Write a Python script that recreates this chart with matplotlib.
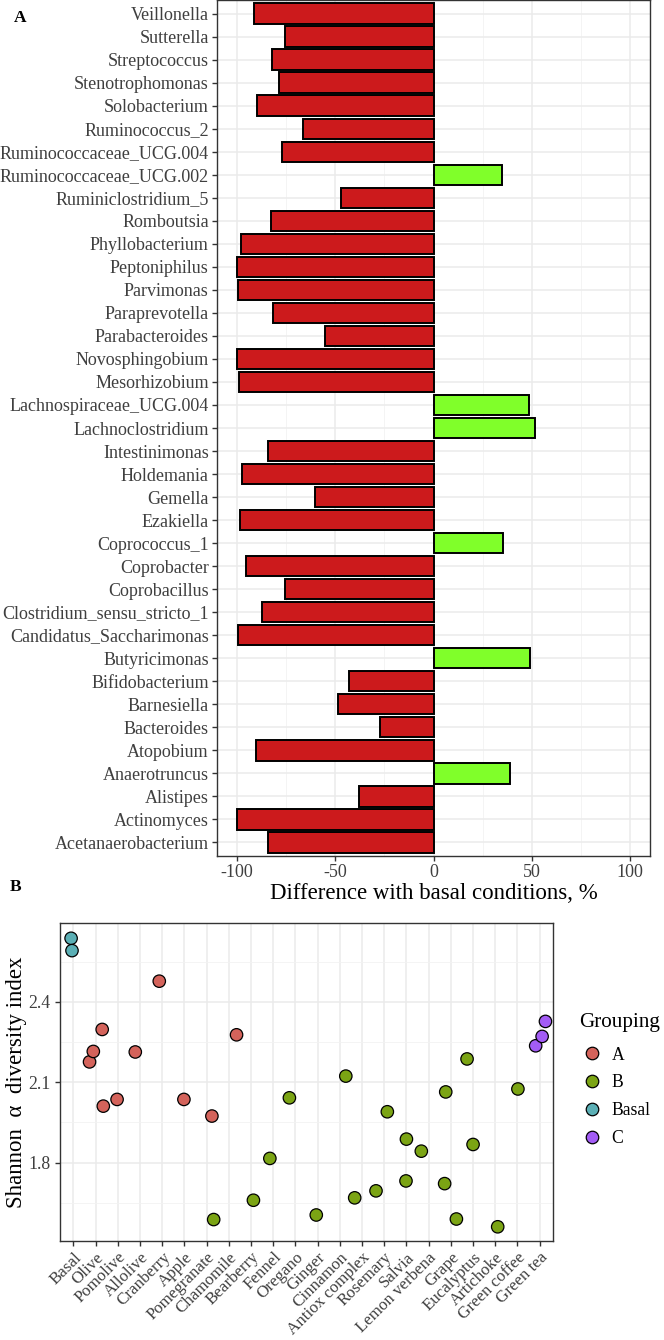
import matplotlib
matplotlib.use('Agg')
import matplotlib.pyplot as plt
from matplotlib.lines import Line2D
from matplotlib.ticker import FixedLocator

plt.rcParams['font.family'] = ['Liberation Serif', 'DejaVu Serif']

# ---------------- Panel A data (top to bottom) ----------------
genera = ['Veillonella', 'Sutterella', 'Streptococcus', 'Stenotrophomonas', 'Solobacterium',
          'Ruminococcus_2', 'Ruminococcaceae_UCG.004', 'Ruminococcaceae_UCG.002',
          'Ruminiclostridium_5', 'Romboutsia', 'Phyllobacterium', 'Peptoniphilus', 'Parvimonas',
          'Paraprevotella', 'Parabacteroides', 'Novosphingobium', 'Mesorhizobium',
          'Lachnospiraceae_UCG.004', 'Lachnoclostridium', 'Intestinimonas', 'Holdemania',
          'Gemella', 'Ezakiella', 'Coprococcus_1', 'Coprobacter', 'Coprobacillus',
          'Clostridium_sensu_stricto_1', 'Candidatus_Saccharimonas', 'Butyricimonas',
          'Bifidobacterium', 'Barnesiella', 'Bacteroides', 'Atopobium', 'Anaerotruncus',
          'Alistipes', 'Actinomyces', 'Acetanaerobacterium']
diff_pct = [-91.0, -75.3, -81.9, -78.5, -89.9,
            -66.5, -77.0, 34.8,
            -47.1, -82.6, -97.6, -99.6, -99.4,
            -81.7, -55.3, -100.0, -98.9,
            48.6, 51.4, -84.3, -97.2,
            -60.2, -98.1, 35.1, -95.5, -75.7,
            -87.1, -99.4, 49.0,
            -42.8, -48.6, -27.3, -90.1, 39.1,
            -37.8, -99.6, -83.9]
xticks_a = [-100, -50, 0, 50, 100]

# ---------------- Panel B data ----------------
categories = ['Basal', 'Olive', 'Pomolive', 'Allolive', 'Cranberry', 'Apple', 'Pomegranate',
              'Chamomile', 'Bearberry', 'Fennel', 'Oregano', 'Ginger', 'Cinnamon',
              'Antiox complex', 'Rosemary', 'Salvia', 'Lemon verbena', 'Grape', 'Eucalyptus',
              'Artichoke', 'Green coffee', 'Green tea']
pt_cat = ['Basal', 'Basal',
          'Olive', 'Olive', 'Olive', 'Olive', 'Pomolive', 'Allolive', 'Cranberry', 'Apple',
          'Pomegranate', 'Chamomile',
          'Pomegranate', 'Bearberry', 'Fennel', 'Oregano', 'Ginger', 'Cinnamon',
          'Antiox complex', 'Rosemary', 'Rosemary', 'Salvia', 'Salvia', 'Lemon verbena',
          'Grape', 'Grape', 'Grape', 'Eucalyptus', 'Eucalyptus', 'Artichoke', 'Green coffee',
          'Green tea', 'Green tea', 'Green tea']
pt_jitter = [-0.10, -0.06,
             -0.27, -0.10, 0.30, 0.35, -0.03, -0.21, -0.13, -0.02,
             0.24, 0.35,
             0.32, 0.11, -0.15, -0.27, -0.06, 0.27,
             -0.33, -0.37, 0.14, 0.00, -0.02, -0.33,
             -0.28, -0.23, 0.25, -0.27, 0.00, 0.11, 0.02,
             -0.18, 0.11, 0.26]
pt_shannon = [2.637, 2.591,
              2.176, 2.215, 2.297, 2.011, 2.036, 2.213, 2.477, 2.036,
              1.974, 2.277,
              1.588, 1.660, 1.816, 2.042, 1.605, 2.123,
              1.669, 1.695, 1.990, 1.888, 1.732, 1.843,
              1.722, 2.064, 1.590, 2.187, 1.868, 1.561, 2.075,
              2.236, 2.271, 2.327]
pt_group = ['Basal', 'Basal'] + ['A'] * 10 + ['B'] * 19 + ['C'] * 3
groups = ['A', 'B', 'Basal', 'C']
group_colors = {'A': '#D4635B', 'B': '#7BA414', 'Basal': '#5BAFB5', 'C': '#A35CF5'}
yticks_b = [1.8, 2.1, 2.4]
yminor_b = [1.65, 1.95, 2.25, 2.55]

W, H = 664, 1340
fig = plt.figure(figsize=(W / 100, H / 100), dpi=100)

grid_major = '#EBEBEB'
tick_col = '#3F3F3F'
border_col = '#333333'

# ---------------- Panel A ----------------
axA = fig.add_axes([217 / W, 1 - 856 / H, (650 - 217) / W, 856 / H])
n = len(genera)
ypos = list(range(n - 1, -1, -1))
colors = ['#CC1A1C' if v < 0 else '#80FF2A' for v in diff_pct]
axA.barh(ypos, diff_pct, height=0.9, color=colors, edgecolor='black', linewidth=1.4, zorder=3)
axA.set_xlim(-110, 110)
axA.set_ylim(-0.6, n - 1 + 0.6)
axA.set_yticks(ypos)
axA.set_yticklabels(genera)
axA.set_xticks(xticks_a)
axA.set_xticklabels([str(v) for v in xticks_a])
axA.xaxis.set_minor_locator(FixedLocator([-75, -25, 25, 75]))
axA.grid(True, which='major', color=grid_major, linewidth=1.1, zorder=0)
axA.grid(True, which='minor', axis='x', color='#F2F2F2', linewidth=0.6, zorder=0)
axA.set_axisbelow(True)
axA.tick_params(axis='both', which='major', labelsize=13, labelcolor=tick_col,
                color=border_col, length=3.5, width=1, pad=2.5)
axA.tick_params(axis='both', which='minor', length=0)
for s in axA.spines.values():
    s.set_color(border_col)
    s.set_linewidth(1)
axA.set_xlabel('Difference with basal conditions, %', fontsize=16.5, color='black')
axA.xaxis.set_label_coords(0.5, -0.031)
axA.xaxis.label.set_va('top')

fig.text(14 / W, 1 - 18 / H, 'A', fontsize=12.5, fontweight='bold', va='center', ha='left')

# ---------------- Panel B ----------------
axB = fig.add_axes([60 / W, 1 - 1241 / H, (553 - 60) / W, (1241 - 923) / H])
cat_index = {c: i for i, c in enumerate(categories)}
xs = [cat_index[c] + j for c, j in zip(pt_cat, pt_jitter)]
cols = [group_colors[g] for g in pt_group]
axB.scatter(xs, pt_shannon, s=80, c=cols, edgecolors='black', linewidths=0.9, zorder=3)
axB.set_xlim(-0.6, len(categories) - 1 + 0.6)
axB.set_ylim(1.508, 2.694)
axB.set_xticks(range(len(categories)))
axB.set_xticklabels(categories, rotation=45, ha='right', rotation_mode='anchor')
axB.set_yticks(yticks_b)
axB.set_yticklabels([f'{v:.1f}' for v in yticks_b])
axB.yaxis.set_minor_locator(FixedLocator(yminor_b))
axB.grid(True, which='major', color=grid_major, linewidth=1.1, zorder=0)
axB.grid(True, which='minor', axis='y', color='#F2F2F2', linewidth=0.6, zorder=0)
axB.set_axisbelow(True)
axB.tick_params(axis='both', which='major', labelsize=12.8, labelcolor=tick_col,
                color=border_col, length=3.5, width=1)
axB.tick_params(axis='x', which='major', labelsize=12.2, pad=2.5)
axB.tick_params(axis='both', which='minor', length=0)
for s in axB.spines.values():
    s.set_color(border_col)
    s.set_linewidth(1)
axB.set_ylabel('Shannon  α  diversity index', fontsize=16.5, color='black')
axB.yaxis.set_label_coords(-0.066, 0.5)

fig.text(10 / W, 1 - 887 / H, 'B', fontsize=12.5, fontweight='bold', va='center', ha='left')

# legend
fig.text(579 / W, 1 - 1022 / H, 'Grouping', fontsize=15.2, va='center', ha='left')
handles = [Line2D([0], [0], marker='o', linestyle='none', markersize=9,
                  markerfacecolor=group_colors[g], markeredgecolor='black',
                  markeredgewidth=0.9) for g in groups]
leg = fig.legend(handles, groups, loc='upper left',
                 bbox_to_anchor=(578 / W, 1 - 1043 / H), frameon=False,
                 fontsize=12.7, handletextpad=0.5, labelspacing=0.62, handlelength=1.2,
                 borderpad=0.2, borderaxespad=0.0)

fig.savefig('out.png', dpi=100)
